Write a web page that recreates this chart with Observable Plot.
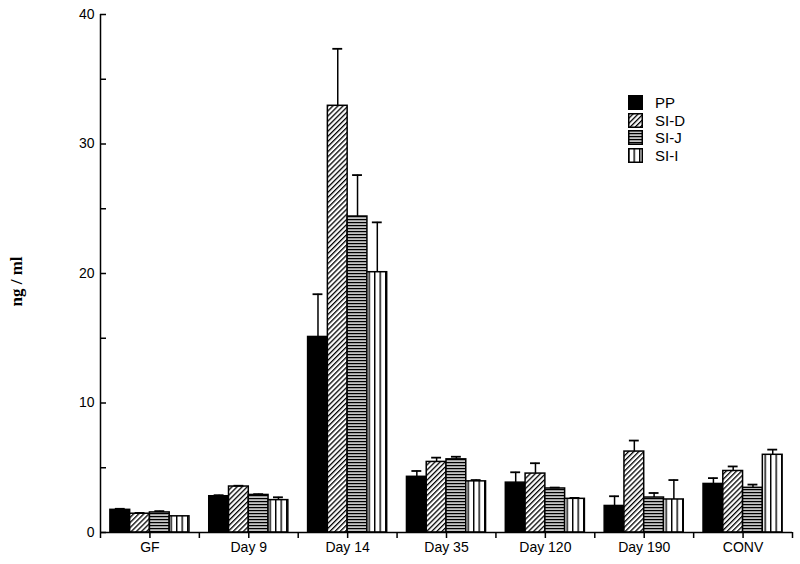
<!DOCTYPE html>
<html><head><meta charset="utf-8">
<script src="https://cdn.jsdelivr.net/npm/d3@7"></script>
<script src="https://cdn.jsdelivr.net/npm/@observablehq/plot@0.6"></script>
<style>
body{margin:0;background:#fff;}
#wrap{position:relative;width:800px;height:564px;font-family:"Liberation Sans",Arial,sans-serif;}
#legend{position:absolute;left:628px;top:94px;font-size:15px;color:#000;}
.row{display:flex;align-items:center;height:17.5px;}
.row svg{margin-right:12px;display:block}
</style></head><body><div id="wrap"><div id="legend"></div></div>
<script>
const categories = ["GF", "Day 9", "Day 14", "Day 35", "Day 120", "Day 190", "CONV"];
const seriesNames = ["PP", "SI-D", "SI-J", "SI-I"];
const ppValues  = [1.75, 2.8, 15.1, 4.3, 3.85, 2.05, 3.75];
const sidValues = [1.45, 3.55, 32.95, 5.45, 4.55, 6.25, 4.75];
const sijValues = [1.55, 2.9, 24.4, 5.65, 3.4, 2.7, 3.45];
const siiValues = [1.25, 2.5, 20.1, 3.95, 2.6, 2.55, 6.0];
const ppErrors  = [0.08, 0.08, 3.3, 0.45, 0.8, 0.75, 0.45];
const sidErrors = [0.06, 0.06, 4.4, 0.33, 0.8, 0.85, 0.35];
const sijErrors = [0.1, 0.06, 3.2, 0.2, 0.07, 0.35, 0.25];
const siiErrors = [0.0, 0.22, 3.85, 0.1, 0.07, 1.5, 0.4];
const yTickLabels = [0, 10, 20, 30, 40];

const valuesBySeries = [ppValues, sidValues, sijValues, siiValues];
const errorsBySeries = [ppErrors, sidErrors, sijErrors, siiErrors];
const seriesFills = ["black", "url(#patD)", "url(#patJ)", "url(#patI)"];

const barW = 0.2, groupPad = 0.1;
const rows = [];
seriesNames.forEach((s, j) => categories.forEach((c, i) => rows.push({
  category: c, ci: i, series: s, sj: j,
  value: valuesBySeries[j][i], err: errorsBySeries[j][i]
})));
const left = d => d.ci + groupPad + d.sj * barW;
const center = d => left(d) + barW / 2;
const blank = () => "";

const marks = [];
seriesNames.forEach((s, j) => {
  marks.push(Plot.rectY(rows.filter(d => d.sj === j), {
    x1: left, x2: d => left(d) + barW, y1: 0, y2: "value",
    fill: seriesFills[j], stroke: "black", strokeWidth: 1.5
  }));
});
marks.push(
  Plot.ruleX(rows, {x: center, y1: "value", y2: d => d.value + d.err, stroke: "black", strokeWidth: 1.5}),
  Plot.ruleY(rows.filter(d => d.err > 0), {x1: d => center(d) - 0.05, x2: d => center(d) + 0.05, y: d => d.value + d.err, stroke: "black", strokeWidth: 1.8}),
  Plot.ruleX([0], {stroke: "black", strokeWidth: 1.5}),
  Plot.ruleY([0], {stroke: "black", strokeWidth: 1.5}),
  Plot.axisX({ticks: d3.range(0.5, 7, 1), tickFormat: d => categories[Math.floor(d)], tickSize: 6, tickPadding: 4, label: null, strokeWidth: 1.5, fontSize: 14}),
  Plot.axisX({ticks: d3.range(0, 8), tickSize: 6, tickFormat: blank, label: null, strokeWidth: 1.5}),
  Plot.axisY({ticks: d3.range(0, 41, 5), tickSize: -6, tickFormat: blank, label: null, strokeWidth: 1.5}),
  Plot.axisY({ticks: yTickLabels, tickSize: 0, tickPadding: 6, label: null, fontSize: 14}),
  Plot.text(["ng / ml"], {frameAnchor: "left", dx: -84, dy: 33, rotate: -90, fontWeight: "bold",
    fontFamily: "Liberation Serif", fontSize: 17, letterSpacing: 1.2, fill: "black"})
);

const chart = Plot.plot({
  width: 800, height: 564,
  marginLeft: 100, marginRight: 8, marginTop: 14, marginBottom: 32,
  style: {fontFamily: "Liberation Sans, Arial, sans-serif", fontSize: "14px", color: "black", background: "white"},
  x: {domain: [0, 7], axis: null},
  y: {domain: [0, 40], axis: null},
  marks
});

const defs = d3.select(chart).insert("defs", ":first-child");
const pD = defs.append("pattern").attr("id", "patD").attr("patternUnits", "userSpaceOnUse")
  .attr("width", 3.6).attr("height", 3.6).attr("patternTransform", "rotate(45)");
pD.append("rect").attr("width", 3.6).attr("height", 3.6).attr("fill", "white");
pD.append("rect").attr("width", 1.3).attr("height", 3.6).attr("fill", "black");
const pJ = defs.append("pattern").attr("id", "patJ").attr("patternUnits", "userSpaceOnUse")
  .attr("width", 4).attr("height", 3);
pJ.append("rect").attr("width", 4).attr("height", 3).attr("fill", "#c4c4c4");
pJ.append("rect").attr("width", 4).attr("height", 1.2).attr("fill", "black");
const pI = defs.append("pattern").attr("id", "patI").attr("patternUnits", "userSpaceOnUse")
  .attr("width", 5.5).attr("height", 4);
pI.append("rect").attr("width", 5.5).attr("height", 4).attr("fill", "white");
pI.append("rect").attr("width", 1.4).attr("height", 4).attr("fill", "black");

document.getElementById("wrap").prepend(chart);

const legend = document.getElementById("legend");
legend.innerHTML = seriesNames.map((s, j) =>
  `<div class="row"><svg width="15" height="15"><rect x="0.75" y="0.75" width="13.5" height="13.5" fill="${seriesFills[j]}" stroke="black" stroke-width="1.5"/></svg><span>${s}</span></div>`
).join("");
</script></body></html>
